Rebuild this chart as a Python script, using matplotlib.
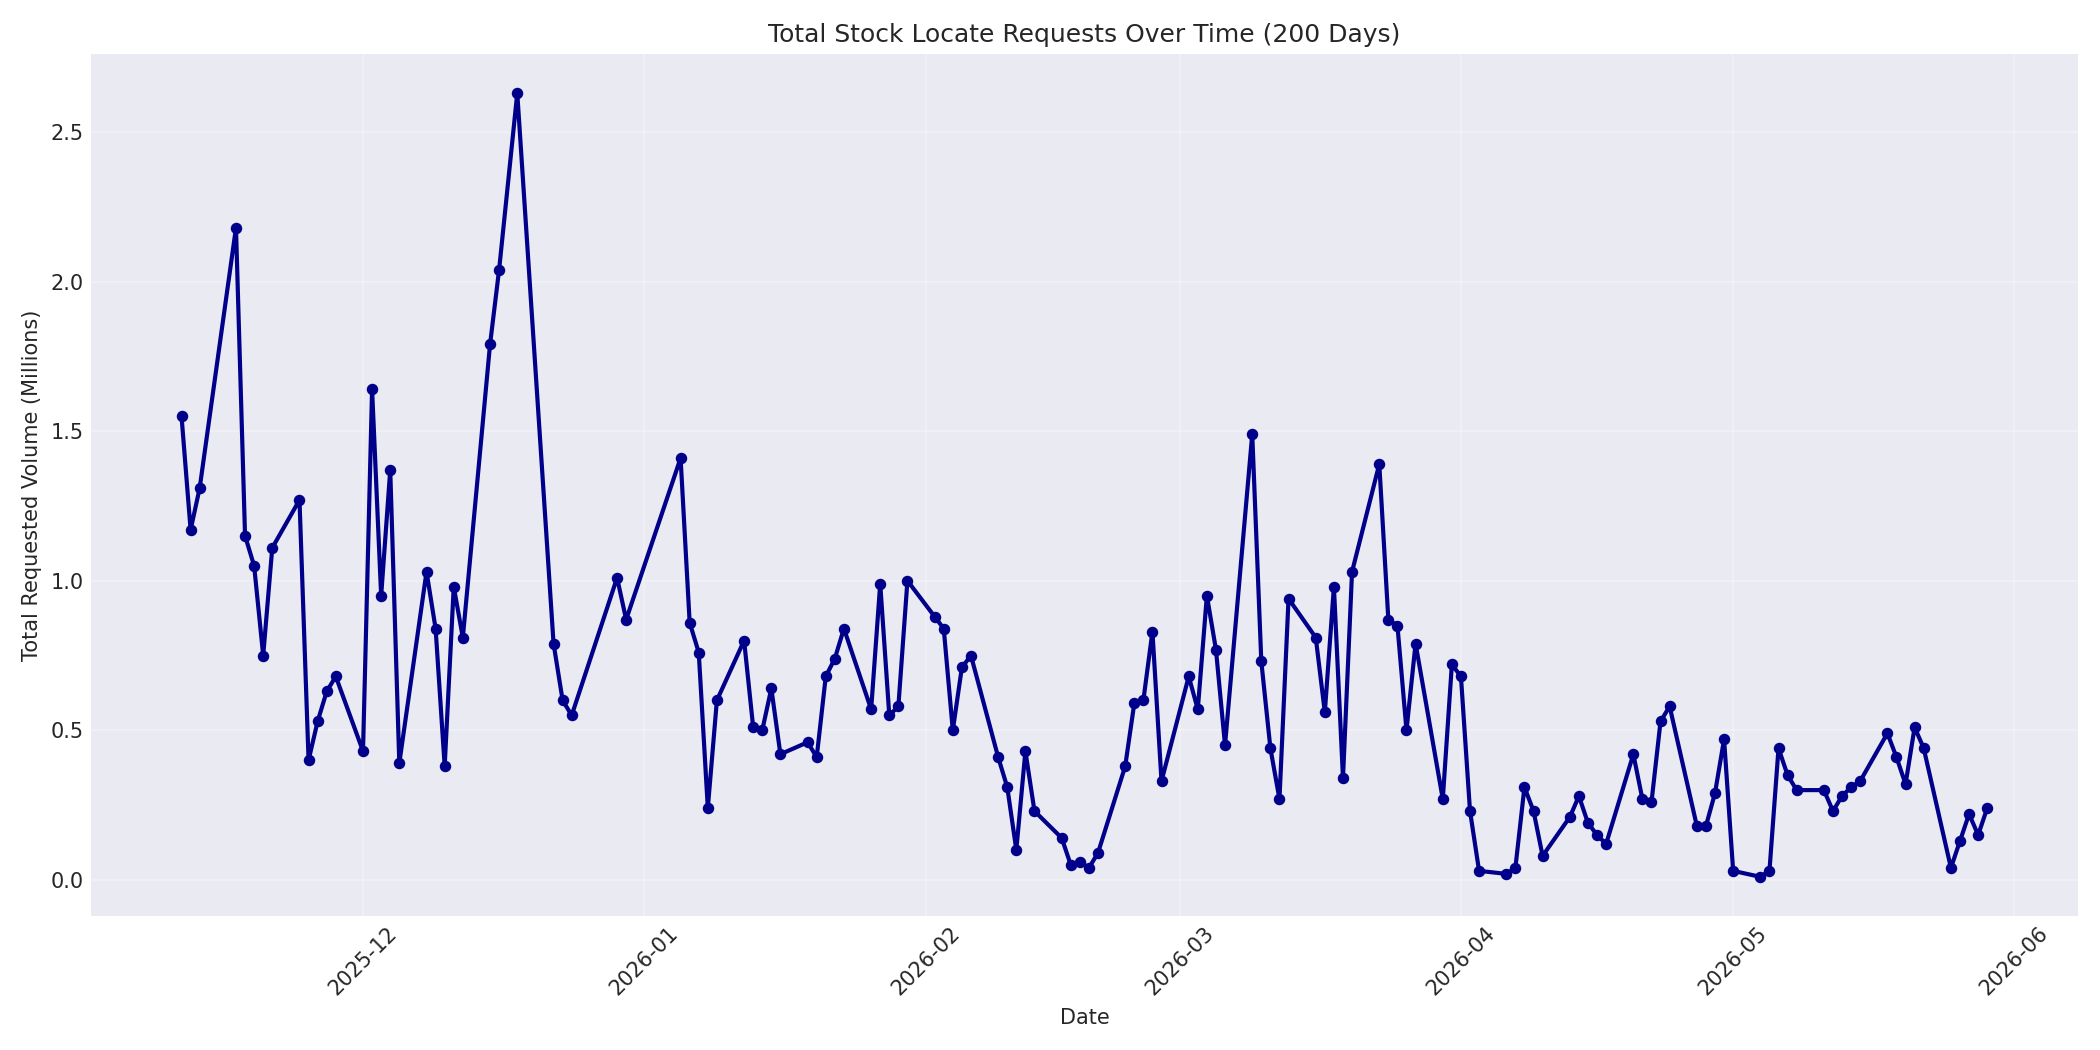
import numpy as np
import pandas as pd
import matplotlib

matplotlib.use("Agg")
import matplotlib.pyplot as plt
import matplotlib.dates as mdates

# ----- data -----------------------------------------------------------------

START = "2025-11-11"
day_offsets = [
    0, 1, 2, 6, 7, 8, 9, 10, 13, 14, 15, 16, 17, 20, 21, 22, 23, 24, 27, 28,
    29, 30, 31, 34, 35, 37, 41, 42, 43, 48, 49, 55, 56, 57, 58, 59, 62, 63, 64, 65,
    66, 69, 70, 71, 72, 73, 76, 77, 78, 79, 80, 83, 84, 85, 86, 87, 90, 91, 92, 93,
    94, 97, 98, 99, 100, 101, 104, 105, 106, 107, 108, 111, 112, 113, 114, 115, 118, 119, 120, 121,
    122, 125, 126, 127, 128, 129, 132, 133, 134, 135, 136, 139, 140, 141, 142, 143, 146, 147, 148, 149,
    150, 153, 154, 155, 156, 157, 160, 161, 162, 163, 164, 167, 168, 169, 170, 171, 174, 175, 176, 177,
    178, 181, 182, 183, 184, 185, 188, 189, 190, 191, 192, 195, 196, 197, 198, 199,
]
volume_millions = [
    1.55, 1.17, 1.31, 2.18, 1.15, 1.05, 0.75, 1.11, 1.27, 0.40, 0.53, 0.63, 0.68, 0.43, 1.64, 0.95, 1.37, 0.39, 1.03, 0.84,
    0.38, 0.98, 0.81, 1.79, 2.04, 2.63, 0.79, 0.60, 0.55, 1.01, 0.87, 1.41, 0.86, 0.76, 0.24, 0.60, 0.80, 0.51, 0.50, 0.64,
    0.42, 0.46, 0.41, 0.68, 0.74, 0.84, 0.57, 0.99, 0.55, 0.58, 1.00, 0.88, 0.84, 0.50, 0.71, 0.75, 0.41, 0.31, 0.10, 0.43,
    0.23, 0.14, 0.05, 0.06, 0.04, 0.09, 0.38, 0.59, 0.60, 0.83, 0.33, 0.68, 0.57, 0.95, 0.77, 0.45, 1.49, 0.73, 0.44, 0.27,
    0.94, 0.81, 0.56, 0.98, 0.34, 1.03, 1.39, 0.87, 0.85, 0.50, 0.79, 0.27, 0.72, 0.68, 0.23, 0.03, 0.02, 0.04, 0.31, 0.23,
    0.08, 0.21, 0.28, 0.19, 0.15, 0.12, 0.42, 0.27, 0.26, 0.53, 0.58, 0.18, 0.18, 0.29, 0.47, 0.03, 0.01, 0.03, 0.44, 0.35,
    0.30, 0.30, 0.23, 0.28, 0.31, 0.33, 0.49, 0.41, 0.32, 0.51, 0.44, 0.04, 0.13, 0.22, 0.15, 0.24,
]

dates = pd.Timestamp(START) + pd.to_timedelta(day_offsets, unit="D")

# ----- plot -----------------------------------------------------------------

plt.style.use("seaborn-v0_8-darkgrid")
plt.rcParams["font.family"] = "DejaVu Sans"
fig, ax = plt.subplots(figsize=(14, 7), dpi=150)
ax.plot(dates, volume_millions, color="#00008b", linewidth=2, marker="o", markersize=4.5)
ax.set_title("Total Stock Locate Requests Over Time (200 Days)", fontsize=12)
ax.set_xlabel("Date", fontsize=10)
ax.set_ylabel("Total Requested Volume (Millions)", fontsize=10)
ax.xaxis.set_major_locator(mdates.MonthLocator())
ax.xaxis.set_major_formatter(mdates.DateFormatter("%Y-%m"))
ax.grid(True, alpha=0.3)
plt.setp(ax.get_xticklabels(), rotation=45)
fig.tight_layout()
fig.savefig("out.png", dpi=150)
plt.close(fig)
